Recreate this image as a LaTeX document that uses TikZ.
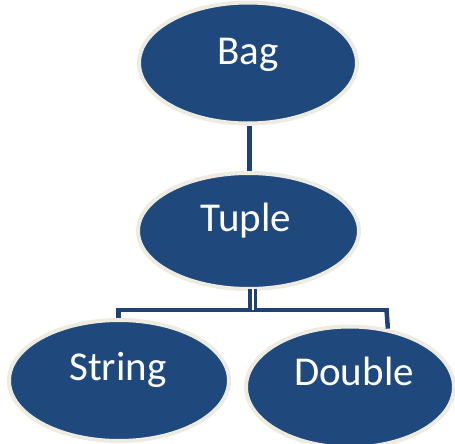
\documentclass[tikz,border=0pt]{standalone}
\usepackage{fontspec}
\setmainfont{Carlito}
\usetikzlibrary{shapes.geometric}
\definecolor{bluefill}{RGB}{31,73,125}
\definecolor{cream}{RGB}{238,236,225}
\definecolor{linkblue}{RGB}{30,66,116}
\begin{document}
\begin{tikzpicture}[x=1pt,y=-1pt,
  bubble/.style={ellipse, draw=cream, line width=4pt, fill=bluefill, inner sep=0pt},
  word/.style={anchor=base, text=white, font=\fontsize{41}{49}\selectfont, inner sep=0pt},
  link/.style={draw=linkblue, line width=4.5pt},
  doublelink/.style={draw=linkblue, line width=3.2pt, double=white, double distance=2pt}]
\useasboundingbox (0,0) rectangle (455,444);
% ellipses
\node[bubble, minimum width=218pt, minimum height=121pt] (bag) at (248,63) {};
\node[bubble, minimum width=221pt, minimum height=116pt] (tuple) at (248.5,231) {};
\node[bubble, minimum width=220pt, minimum height=121pt] (string) at (119,380.5) {};
\node[bubble, minimum width=208pt, minimum height=121pt] (double) at (350,387) {};
% connectors
\coordinate (tb) at (252.5,289);
\coordinate (hj) at (252.5,310);
\coordinate (hl) at (118.3,310);
\coordinate (hr) at (386.5,310);
\draw[link] (bag.south -| 249.3,0) -- (tuple.north -| 249.3,0);
\draw[link, line cap=rect] (hl) -- (hr);
\draw[link] (hl) -- (hl |- string.north);
\draw[link] (hr) -- (double.57);
\draw[doublelink] (tb) -- (hj);
% texts
\node[word] (tbag) at (248,65) {Bag};
\node[word] (ttuple) at (246,231.5) {Tuple};
\node[word] (tstring) at (118,380.5) {String};
\node[word] (tdouble) at (354,385) {Double};
\end{tikzpicture}
\end{document}
